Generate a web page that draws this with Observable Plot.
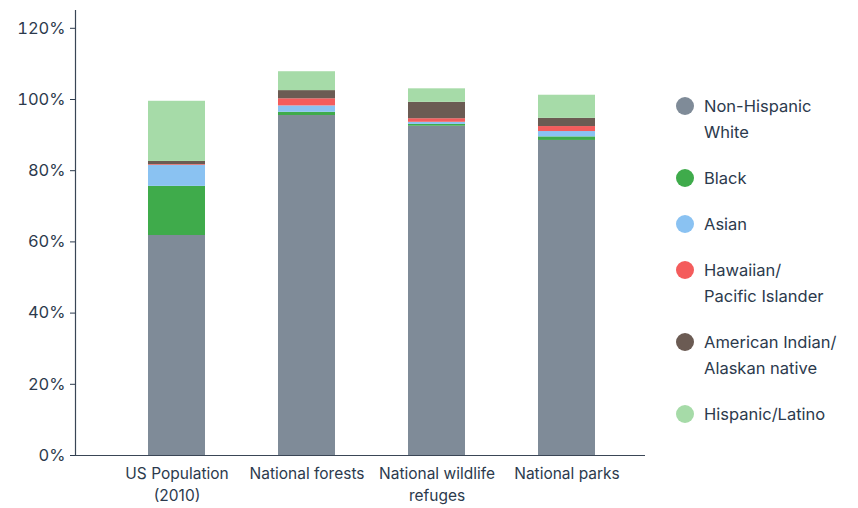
<!DOCTYPE html>
<html><head><meta charset="utf-8">
<script src="https://cdn.jsdelivr.net/npm/d3@7"></script>
<script src="https://cdn.jsdelivr.net/npm/@observablehq/plot@0.6"></script>
<style>
html,body{margin:0;padding:0;background:#fff;}
#wrap{position:relative;width:858px;height:508px;font-family:Inter,"Noto Sans",sans-serif;}
#legend{position:absolute;left:676px;top:93px;color:#2c3a4d;font-size:16.5px;line-height:26px;}
.item{display:flex;align-items:flex-start;margin-bottom:20px;}
.dot{width:18px;height:18px;border-radius:50%;margin-top:4px;margin-right:10px;flex:none;}
</style></head>
<body><div id="wrap"><div id="legend"></div></div>
<script>
const categories = ["US Population (2010)", "National forests", "National wildlife refuges", "National parks"];
const tickLabels = ["US Population\n(2010)", "National forests", "National wildlife\nrefuges", "National parks"];
const groups = ["Non-Hispanic White", "Black", "Asian", "Hawaiian/ Pacific Islander", "American Indian/ Alaskan native", "Hispanic/Latino"];
const legendLabels = ["Non-Hispanic<br>White", "Black", "Asian", "Hawaiian/<br>Pacific Islander", "American Indian/<br>Alaskan native", "Hispanic/Latino"];
const colors = ["#7f8b98", "#3fab4b", "#8ac2f2", "#f45c5c", "#6b5b53", "#a6dba8"];
const nonHispanicWhite = [61.8, 95.5, 92.5, 88.5];
const black = [13.8, 0.9, 0.5, 1.0];
const asian = [5.9, 1.8, 0.6, 1.5];
const hawaiian = [0.2, 2.0, 1.0, 1.4];
const americanIndian = [0.9, 2.3, 4.6, 2.3];
const hispanic = [16.9, 5.3, 3.8, 6.5];
const yTicks = [0, 20, 40, 60, 80, 100, 120];

const series = [nonHispanicWhite, black, asian, hawaiian, americanIndian, hispanic];
const data = [];
groups.forEach((g, gi) => categories.forEach((c, ci) => data.push({category: c, group: g, value: series[gi][ci]})));

const chart = Plot.plot({
  width: 858, height: 508,
  marginLeft: 75, marginRight: 213, marginTop: 10, marginBottom: 53,
  style: {fontFamily: "Inter, 'Noto Sans', sans-serif", color: "#2c3a4d", background: "#fff"},
  x: {domain: categories, paddingInner: 0.562, paddingOuter: 0.473, align: 0.59, label: null},
  y: {domain: [0, 125], label: null},
  color: {domain: groups, range: colors},
  marks: [
    Plot.barY(data, {x: "category", y: "value", fill: "group", order: groups}),
    Plot.axisY({ticks: yTicks, tickFormat: d => d + "%", tickSize: 5, tickPadding: 5, fontSize: 16.5, stroke: "#2c3a4d", fill: "#2c3a4d", label: null}),
    Plot.axisX({tickSize: 0, tickPadding: 8, fontSize: 15.5, lineHeight: 1.42, tickFormat: d => tickLabels[categories.indexOf(d)], fill: "#2c3a4d", label: null}),
    Plot.ruleY([0], {stroke: "#3a4656", strokeWidth: 1.2}),
    Plot.frame({anchor: "left", stroke: "#3a4656", strokeWidth: 1.2})
  ]
});
document.getElementById("wrap").prepend(chart);

const legend = document.getElementById("legend");
groups.forEach((g, i) => {
  const it = document.createElement("div");
  it.className = "item";
  it.innerHTML = `<span class="dot" style="background:${colors[i]}"></span><span>${legendLabels[i]}</span>`;
  legend.appendChild(it);
});
</script></body></html>
